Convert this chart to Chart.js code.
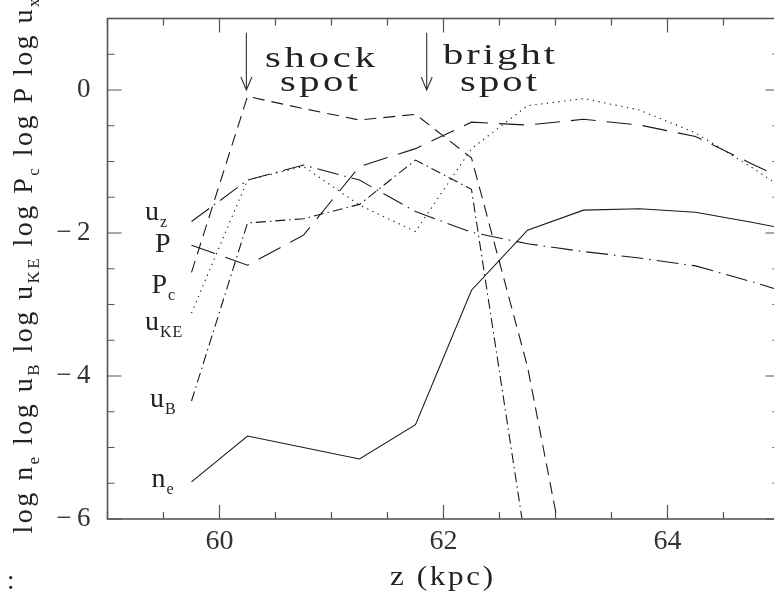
<!DOCTYPE html>
<html><head><meta charset="utf-8">
<script src="https://cdn.jsdelivr.net/npm/chart.js@4"></script>
<style>
html,body{margin:0;padding:0;overflow:hidden;background:#fff;width:774px;height:598px}
canvas{display:block}
</style></head>
<body>
<canvas id="c" width="782" height="598" style="width:782px;height:598px"></canvas>
<script>
// ---- data ----
const zValues = [59.75, 60.25, 60.75, 61.25, 61.75, 62.25, 62.75, 63.25, 63.75, 64.25, 64.75, 65.25];
const logNe   = [-5.48, -4.84, -5.00, -5.16, -4.68, -2.80, -1.96, -1.68, -1.66, -1.71, -1.85, -2.00];
const logUB   = [-4.35, -1.86, -1.80, -1.60, -0.98, -1.39, -6.50, null, null, null, null, null];
const logUKE  = [-3.12, -1.26, -1.07, -1.61, -1.98, -0.82, -0.22, -0.12, -0.28, -0.60, -1.08, -1.60];
const logPc   = [-2.55, -0.09, -0.26, -0.42, -0.34, -0.95, -3.87, -7.90, null, null, null, null];
const logP    = [-2.17, -2.45, -2.03, -1.07, -0.82, -0.45, -0.49, -0.41, -0.49, -0.65, -1.03, -1.40];
const logUz   = [-1.84, -1.26, -1.05, -1.26, -1.70, -1.99, -2.15, -2.26, -2.35, -2.46, -2.68, -2.92];
const xTickValues = [60, 62, 64];
const yTickValues = [-6, -4, -2, 0];
const annotations = [["shock", "spot"], ["bright", "spot"]];
const axisTitleX = "z (kpc)";

function pts(ys){ return zValues.map((x,i)=>({x:x, y:ys[i]})); }
function fontStr(size){ return size + 'px "Liberation Serif", "Times New Roman", serif'; }

function measureRich(ctx, segs, o){
  let w=0, n=0;
  for (const s of segs){ ctx.font = fontStr(s.sub ? o.subSize : o.size);
    for (const ch of s.t){ w += ctx.measureText(ch).width; n++; } }
  return {w, n};
}
function drawRich(ctx, segs, x, y, o){
  const hs = o.hscale || 1;
  const m = measureRich(ctx, segs, o);
  let sp = o.spacing || 0;
  if (o.width != null) sp = (o.width/hs - m.w)/Math.max(1, m.n-1);
  const total = (m.w + sp*(m.n-1))*hs;
  const x0 = o.align==='center' ? x - total/2 : (o.align==='right' ? x - total : x);
  ctx.save(); ctx.translate(x0, y); ctx.scale(hs, 1);
  ctx.textBaseline = 'alphabetic'; ctx.textAlign = 'left';
  let cx = 0;
  for (const s of segs){ ctx.font = fontStr(s.sub ? o.subSize : o.size);
    for (const ch of s.t){ ctx.fillText(ch, cx, s.sub ? o.subDy : 0); cx += ctx.measureText(ch).width + sp; } }
  ctx.restore();
}

const decor = {
  id: 'decor',
  afterDraw(chart){
    const ctx = chart.ctx, a = chart.chartArea;
    const xs = chart.scales.x, ys = chart.scales.y;
    ctx.save();
    ctx.strokeStyle = '#555'; ctx.lineWidth = 1.6;
    ctx.strokeRect(a.left, a.top, a.right - a.left, a.bottom - a.top);
    ctx.lineWidth = 1.2;
    ctx.beginPath();
    for (let k = Math.round(xs.min*2); k <= Math.round(xs.max*2); k++){
      const v = k/2, px = xs.getPixelForValue(v);
      const len = (v % 2 === 0) ? 14 : 7;
      ctx.moveTo(px, a.bottom); ctx.lineTo(px, a.bottom - len);
      ctx.moveTo(px, a.top); ctx.lineTo(px, a.top + len);
    }
    for (let k = Math.round(ys.min*2); k <= Math.round(ys.max*2); k++){
      const v = k/2, py = ys.getPixelForValue(v);
      const len = (v % 2 === 0) ? 14 : 7;
      ctx.moveTo(a.left, py); ctx.lineTo(a.left + len, py);
      ctx.moveTo(a.right, py); ctx.lineTo(a.right - len, py);
    }
    ctx.stroke();

    // arrows
    ctx.strokeStyle = '#333'; ctx.lineWidth = 1.1;
    [60.24, 61.85].forEach(z => {
      const px = xs.getPixelForValue(z), y1 = ys.getPixelForValue(0.8), y2 = ys.getPixelForValue(0.0);
      ctx.beginPath(); ctx.moveTo(px, y1); ctx.lineTo(px, y2);
      ctx.moveTo(px - 5.5, y2 - 13); ctx.lineTo(px, y2); ctx.lineTo(px + 5.5, y2 - 13);
      ctx.stroke();
    });

    ctx.fillStyle = '#222';
    const ao = {size:29, subSize:18, subDy:0, hscale:1.4, align:'center'};
    drawRich(ctx, [{t:annotations[0][0]}], 320, 66.5, Object.assign({width:110}, ao));
    drawRich(ctx, [{t:annotations[0][1]}], 319, 90.5, Object.assign({width:78}, ao));
    drawRich(ctx, [{t:annotations[1][0]}], 499, 63.5, Object.assign({width:112}, ao));
    drawRich(ctx, [{t:annotations[1][1]}], 498.5, 90.5, Object.assign({width:77}, ao));

    // series labels
    const lo = {size:28, subSize:16, subDy:7, spacing:1};
    drawRich(ctx, [{t:'u'},{t:'z',sub:true}], 145, 220, lo);
    drawRich(ctx, [{t:'P'}], 155, 252, lo);
    drawRich(ctx, [{t:'P'},{t:'c',sub:true}], 151.5, 293, lo);
    drawRich(ctx, [{t:'u'},{t:'KE',sub:true}], 145, 330, lo);
    drawRich(ctx, [{t:'u'},{t:'B',sub:true}], 150, 407, lo);
    drawRich(ctx, [{t:'n'},{t:'e',sub:true}], 151.5, 487, lo);

    // x axis title
    drawRich(ctx, [{t:axisTitleX}], 441.5, 585, {size:27, subSize:16, subDy:0, width:103, hscale:1.15, align:'center'});
    drawRich(ctx, [{t:':'}], 7, 588.5, {size:27, subSize:16, subDy:0});

    // y axis title (rotated)
    ctx.translate(32, 533.5); ctx.rotate(-Math.PI/2);
    drawRich(ctx, [
      {t:'log '},{t:'n'},{t:'e',sub:true},{t:' log '},{t:'u'},{t:'B',sub:true},
      {t:' log '},{t:'u'},{t:'KE',sub:true},{t:' log '},{t:'P'},{t:'c',sub:true},
      {t:' log '},{t:'P'},{t:' log '},{t:'u'},{t:'x',sub:true}
    ], 0, 0, {size:28, subSize:17, subDy:7, width:535});
    ctx.restore();
  }
};

const lineBase = {borderColor:'#1a1a1a', borderWidth:1.1, pointRadius:0, tension:0, fill:false, spanGaps:false};
new Chart(document.getElementById('c'), {
  type: 'line',
  data: { datasets: [
    Object.assign({label:'n_e',  data: pts(logNe)}, lineBase),
    Object.assign({label:'u_B',  data: pts(logUB),  borderDash:[10,4,1.5,4]}, lineBase),
    Object.assign({label:'u_KE', data: pts(logUKE), borderDash:[1.3,4.5]}, lineBase),
    Object.assign({label:'P_c',  data: pts(logPc),  borderDash:[12,7]}, lineBase),
    Object.assign({label:'P',    data: pts(logP),   borderDash:[25,11]}, lineBase),
    Object.assign({label:'u_z',  data: pts(logUz),  borderDash:[22,6,1.5,6]}, lineBase)
  ]},
  options: {
    responsive:false, animation:false, devicePixelRatio:1,
    layout:{padding:{left:0, right:2.5, top:18.5, bottom:0}},
    plugins:{legend:{display:false}, tooltip:{enabled:false}},
    scales:{
      x:{type:'linear', min:59, max:65,
         grid:{display:false, drawTicks:false}, border:{display:false},
         afterBuildTicks: s => { s.ticks = xTickValues.map(v=>({value:v})); },
         afterFit: s => { s.height = 79; s.paddingLeft = 0; s.paddingRight = 0; },
         ticks:{padding:6, color:'#333', font:{family:'Liberation Serif', size:28}, callback: v => String(v)}},
      y:{type:'linear', min:-6, max:1,
         grid:{display:false, drawTicks:false}, border:{display:false},
         afterBuildTicks: s => { s.ticks = yTickValues.map(v=>({value:v})); },
         afterFit: s => { s.width = 107.5; s.paddingTop = 0; s.paddingBottom = 0; },
         ticks:{padding:17, color:'#333', font:{family:'Liberation Serif', size:27},
                callback: v => v < 0 ? '\u2212\u2009' + Math.abs(v) : String(v)}}
    }
  },
  plugins:[decor]
});
</script>
</body></html>
